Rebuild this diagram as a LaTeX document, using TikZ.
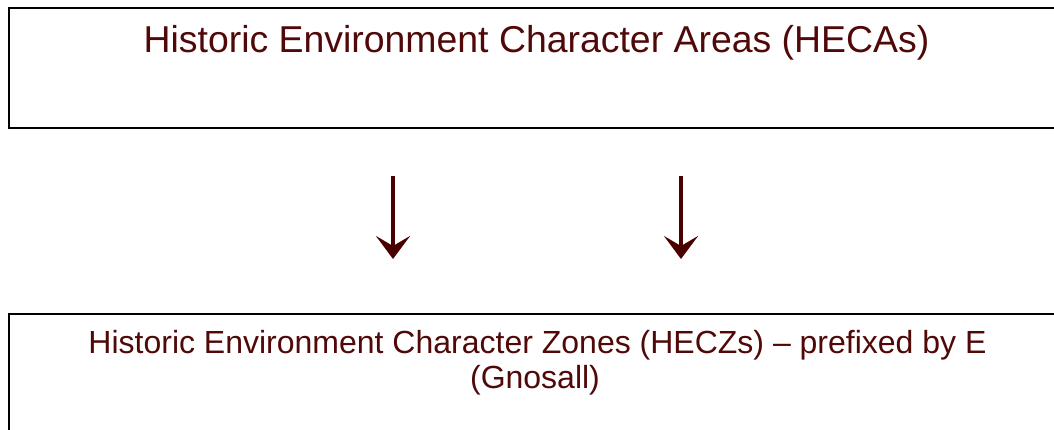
\documentclass[tikz,border=0pt]{standalone}
\usepackage{fontspec}
\setmainfont{Liberation Sans}
\usetikzlibrary{arrows.meta}
\definecolor{maroon}{RGB}{80,8,8}
\definecolor{arrowred}{RGB}{75,0,0}
\begin{document}
\begin{tikzpicture}[x=1pt,y=1pt,
  boxline/.style={draw=black,line width=2pt},
  txt/.style={text=maroon,inner sep=0pt,anchor=base},
  downarrow/.style={draw=arrowred,line width=4pt,-{Stealth[length=23pt,width=34pt,inset=10pt]}}]
\useasboundingbox (0,0) rectangle (1054,-430);
\path[boxline] (9,-8) rectangle (1070,-128);
\path[boxline] (9,-314) rectangle (1070,-445);
\node[txt,font=\fontsize{37.4}{42}\selectfont] (top) at (536.5,-53) {Historic Environment Character Areas (HECAs)};
\node[txt,font=\fontsize{32}{36}\selectfont] (bot1) at (537.5,-353) {Historic Environment Character Zones (HECZs) – prefixed by E};
\node[txt,font=\fontsize{32}{36}\selectfont] (bot2) at (535,-388) {(Gnosall)};
\coordinate (a1s) at (393,-176);
\coordinate (a1e) at (393,-259);
\coordinate (a2s) at (681,-176);
\coordinate (a2e) at (681,-259);
\draw[downarrow] (a1s) -- (a1e);
\draw[downarrow] (a2s) -- (a2e);
\end{tikzpicture}
\end{document}
